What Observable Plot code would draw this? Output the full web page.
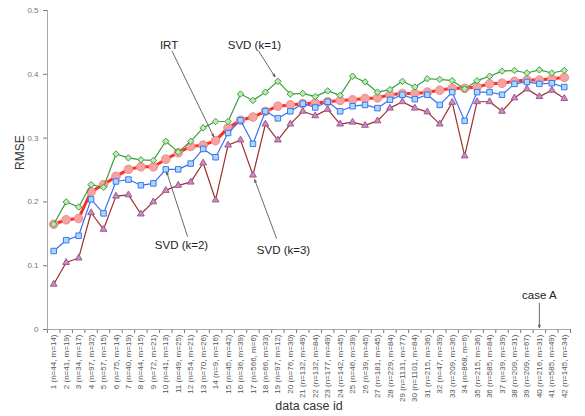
<!DOCTYPE html>
<html><head><meta charset="utf-8">
<script src="https://cdn.jsdelivr.net/npm/d3@7"></script>
<script src="https://cdn.jsdelivr.net/npm/@observablehq/plot@0.6"></script>
<style>body{margin:0;background:#fff;font-family:"Liberation Sans",Arial,sans-serif;}</style>
</head><body><div id="chart"></div>
<script>
const caseIds = d3.range(1, 43);
const caseLabels = [
  "1 (n=44, m=14)","2 (n=41, m=19)","3 (n=34, m=17)","4 (n=97, m=32)","5 (n=57, m=15)",
  "6 (n=75, m=14)","7 (n=40, m=19)","8 (n=44, m=15)","9 (n=72, m=21)","10 (n=41, m=13)",
  "11 (n=49, m=25)","12 (n=54, m=21)","13 (n=70, m=26)","14 (n=9, m=16)","15 (n=45, m=42)",
  "16 (n=36, m=39)","17 (n=566, m=6)","18 (n=66, m=33)","19 (n=97, m=12)","20 (n=76, m=30)",
  "21 (n=132, m=49)","22 (n=132, m=84)","23 (n=177, m=49)","24 (n=142, m=45)","25 (n=46, m=39)",
  "26 (n=39, m=45)","27 (n=181, m=45)","28 (n=229, m=84)","29 (n=1131, m=77)","30 (n=1101, m=84)",
  "31 (n=215, m=36)","32 (n=47, m=39)","33 (n=209, m=36)","34 (n=868, m=6)","35 (n=215, m=36)",
  "36 (n=585, m=84)","37 (n=39, m=39)","38 (n=209, m=31)","39 (n=209, m=67)","40 (n=216, m=31)",
  "41 (n=585, m=49)","42 (n=145, m=34)"
];
const irt = [0.165,0.172,0.174,0.216,0.227,0.240,0.251,0.255,0.255,0.267,0.277,0.287,0.289,0.296,0.316,0.328,0.333,0.342,0.350,0.352,0.354,0.355,0.357,0.359,0.360,0.362,0.363,0.368,0.370,0.370,0.372,0.375,0.378,0.378,0.380,0.385,0.386,0.389,0.391,0.391,0.393,0.395];
const svd1 = [0.165,0.200,0.192,0.227,0.223,0.275,0.269,0.266,0.265,0.295,0.278,0.295,0.316,0.326,0.326,0.369,0.359,0.372,0.389,0.369,0.370,0.365,0.374,0.367,0.397,0.388,0.372,0.376,0.389,0.380,0.393,0.392,0.390,0.377,0.390,0.397,0.405,0.406,0.402,0.407,0.402,0.406];
const svd2 = [0.123,0.140,0.147,0.204,0.182,0.232,0.235,0.226,0.229,0.251,0.251,0.260,0.283,0.270,0.308,0.328,0.291,0.342,0.331,0.342,0.354,0.348,0.357,0.342,0.350,0.352,0.347,0.360,0.368,0.361,0.368,0.352,0.372,0.327,0.372,0.372,0.368,0.385,0.388,0.385,0.386,0.380];
const svd3 = [0.071,0.105,0.112,0.183,0.157,0.209,0.211,0.181,0.200,0.218,0.226,0.231,0.261,0.203,0.289,0.297,0.242,0.322,0.297,0.322,0.342,0.335,0.345,0.322,0.325,0.320,0.327,0.347,0.357,0.347,0.341,0.322,0.356,0.272,0.357,0.357,0.342,0.363,0.377,0.365,0.375,0.362];
const yTicks = [0, 0.1, 0.2, 0.3, 0.4, 0.5];

// annotations (label, text anchor in data space, arrow start, target)
const annoLabels = ["IRT", "SVD (k=1)", "SVD (k=2)", "SVD (k=3)", "case A"];
const annoTextX = [10.26, 17.12, 11.26, 19.45, 40];
const annoTextY = [0.445, 0.445, 0.132, 0.124, 0.054];
const annoFromX = [10.51, 17.47, 11.74, 18.89, 40];
const annoFromY = [0.436, 0.436, 0.146, 0.143, 0.041];
const annoTargetSeries = ["IRT", "SVD (k=1)", "SVD (k=2)", "SVD (k=3)", null];
const annoTargetId = [14, 19, 10, 17, 40];
const annoInset = [4.5, 5.5, 3, 5, 2];

const series = [
  {name: "IRT", values: irt, line: "#ff2e1f", lw: 3, symbol: "circle", r: 4.3, fill: "#f7a2a2", dotStroke: "#ee8c8c"},
  {name: "SVD (k=3)", values: svd3, line: "#9e2e2e", lw: 1.2, symbol: "triangle", r: 2.5, fill: "#c88cc0", dotStroke: "#9a5a90"},
  {name: "SVD (k=2)", values: svd2, line: "#3a6ef2", lw: 1.2, symbol: "square", r: 3.1, fill: "#aad8fb", dotStroke: "#3a78ee"},
  {name: "SVD (k=1)", values: svd1, line: "#3a9e3a", lw: 1.2, symbol: "diamond2", r: 2.9, fill: "#bdeab4", dotStroke: "#3f9f3f"}
];
const byName = Object.fromEntries(series.map(s => [s.name, s.values]));

const annos = annoLabels.map((label, i) => ({
  label, tx: annoTextX[i], ty: annoTextY[i], fx: annoFromX[i], fy: annoFromY[i],
  gx: annoTargetId[i],
  gy: annoTargetSeries[i] ? byName[annoTargetSeries[i]][annoTargetId[i] - 1] : 0,
  inset: annoInset[i]
}));

const boundaries = d3.range(0, 43).map(k => k + 0.5);

const marks = [
  Plot.ruleY([0], {stroke: "#a8a8a8"}),
  Plot.ruleX([0.5], {stroke: "#a8a8a8"})
];
for (const s of series) {
  const rows = s.values.map((v, i) => ({id: caseIds[i], value: v}));
  marks.push(Plot.line(rows, {x: "id", y: "value", stroke: s.line, strokeWidth: s.lw}));
  marks.push(Plot.dot(rows, {x: "id", y: "value", symbol: s.symbol, r: s.r, fill: s.fill, stroke: s.dotStroke, strokeWidth: 1}));
}
marks.push(
  Plot.text(caseIds, {x: d => d, y: () => 0, text: d => caseLabels[d - 1], rotate: -90, textAnchor: "end", dy: 5, fontSize: 8, fill: "#555"}),
  Plot.text(["RMSE"], {frameAnchor: "left", dx: -27, rotate: -90, text: d => d, fontSize: 12, fill: "#333"}),
  Plot.text(["data case id"], {frameAnchor: "bottom", dy: 80, text: d => d, fontSize: 12.5, fill: "#333"}),
  Plot.text(annos, {x: "tx", y: "ty", text: "label", fontSize: 11.5, fill: "#222"}),
  ...annos.map(a => Plot.arrow([a], {x1: "fx", y1: "fy", x2: "gx", y2: "gy", insetEnd: a.inset, stroke: "#444", strokeWidth: 0.8, headLength: 5, headAngle: 45}))
);

const chart = Plot.plot({
  width: 585,
  height: 416,
  marginLeft: 47,
  marginRight: 15,
  marginTop: 10,
  marginBottom: 87,
  style: {fontFamily: "'Liberation Sans', Arial, sans-serif", fontSize: "8px", color: "#777", background: "#fff"},
  x: {type: "linear", domain: [0.5, 42.5], ticks: boundaries, tickFormat: () => "", tickSize: 4, label: null},
  y: {domain: [0, 0.5], ticks: yTicks, tickFormat: d => d === 0 ? "0" : d3.format(".1f")(d), tickSize: 4, label: null},
  marks
});
document.getElementById("chart").appendChild(chart);
</script>
</body></html>
